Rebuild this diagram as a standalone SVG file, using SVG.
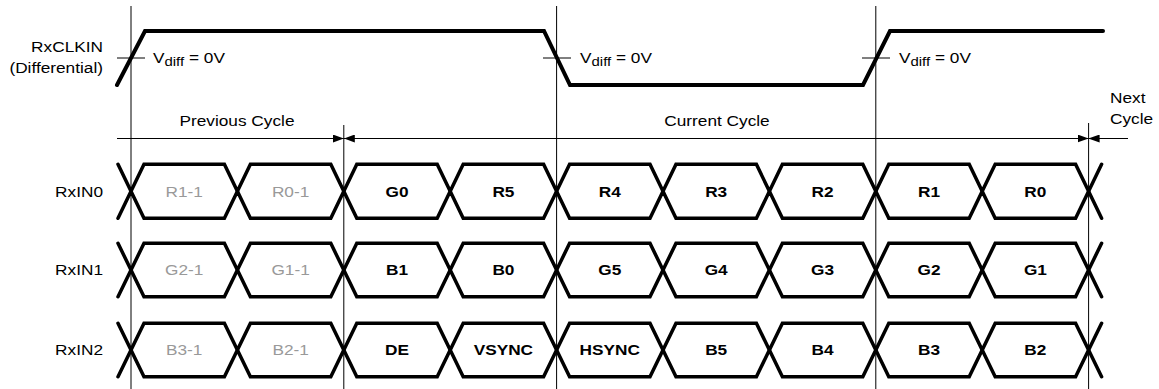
<svg xmlns="http://www.w3.org/2000/svg" width="1159" height="389" viewBox="0 0 1159 389">
<style>
text{font-family:"Liberation Sans",Arial,sans-serif;font-size:15px;fill:#000;transform-box:fill-box;transform:scaleX(1.15)}
.e{text-anchor:end;transform-origin:100% 50%}
.m{text-anchor:middle;transform-origin:50% 50%}
.s{text-anchor:start;transform-origin:0% 50%}
.b{font-weight:bold}
.g{fill:#999}
.sub{font-size:13px}
.sig{fill:none;stroke:#000;stroke-width:3.5;stroke-linecap:round;stroke-linejoin:miter}
.thin{fill:none;stroke:#000;stroke-width:1}
</style>
<defs>
<marker id="ah" viewBox="0 0 11 8" refX="11" refY="4" markerWidth="11" markerHeight="8" markerUnits="userSpaceOnUse" orient="auto-start-reverse">
<path d="M0,0 L11,4 L0,8 z" fill="#000"/>
</marker>
</defs>
<rect width="1159" height="389" fill="#fff"/>

<g id="connectors">
<line class="thin" x1="131" y1="6" x2="131" y2="389"/>
<line class="thin" x1="343.8" y1="125" x2="343.8" y2="389"/>
<line class="thin" x1="556.6" y1="6" x2="556.6" y2="389"/>
<line class="thin" x1="875.8" y1="6" x2="875.8" y2="389"/>
<line class="thin" x1="1088.6" y1="123" x2="1088.6" y2="389"/>
<line class="thin" x1="117" y1="138.5" x2="343.8" y2="138.5" marker-end="url(#ah)"/>
<line class="thin" x1="343.8" y1="138.5" x2="1088.6" y2="138.5" marker-start="url(#ah)" marker-end="url(#ah)"/>
<line class="thin" x1="1128" y1="138.5" x2="1088.6" y2="138.5" marker-end="url(#ah)"/>
<line class="thin" x1="117" y1="58" x2="145" y2="58"/>
<line class="thin" x1="543" y1="58" x2="571" y2="58"/>
<line class="thin" x1="862" y1="58" x2="890" y2="58"/>
</g>

<g id="clock">
<path class="sig" style="stroke-width:4" d="M117,85 L145,31 L544,31 L570,85 L863,85 L890,31 L1103,31"/>
<text class="e" x="103" y="52">RxCLKIN</text>
<text class="e" x="103" y="73">(Differential)</text>
<text class="s" x="153" y="63">V<tspan class="sub" dy="3">diff</tspan><tspan dy="-3"> = 0V</tspan></text>
<text class="s" x="580" y="63">V<tspan class="sub" dy="3">diff</tspan><tspan dy="-3"> = 0V</tspan></text>
<text class="s" x="899" y="63">V<tspan class="sub" dy="3">diff</tspan><tspan dy="-3"> = 0V</tspan></text>
</g>

<g id="cycles">
<text class="m" x="237" y="126">Previous Cycle</text>
<text class="m" x="717" y="126">Current Cycle</text>
<text class="s" x="1110" y="103">Next</text>
<text class="s" x="1110" y="124">Cycle</text>
</g>

<g id="rxin0">
<path class="sig" d="M118,164.3 L131,191.3 L144,164.3 L224.4,164.3 L237.4,191.3 L250.4,164.3 L330.8,164.3 L343.8,191.3 L356.8,164.3 L437.2,164.3 L450.2,191.3 L463.2,164.3 L543.6,164.3 L556.6,191.3 L569.6,164.3 L650,164.3 L663,191.3 L676,164.3 L756.4,164.3 L769.4,191.3 L782.4,164.3 L862.8,164.3 L875.8,191.3 L888.8,164.3 L969.2,164.3 L982.2,191.3 L995.2,164.3 L1075.6,164.3 L1088.6,191.3 L1101.6,164.3"/>
<path class="sig" d="M118,218.3 L131,191.3 L144,218.3 L224.4,218.3 L237.4,191.3 L250.4,218.3 L330.8,218.3 L343.8,191.3 L356.8,218.3 L437.2,218.3 L450.2,191.3 L463.2,218.3 L543.6,218.3 L556.6,191.3 L569.6,218.3 L650,218.3 L663,191.3 L676,218.3 L756.4,218.3 L769.4,191.3 L782.4,218.3 L862.8,218.3 L875.8,191.3 L888.8,218.3 L969.2,218.3 L982.2,191.3 L995.2,218.3 L1075.6,218.3 L1088.6,191.3 L1101.6,218.3"/>
<text class="e" x="103" y="197">RxIN0</text>
<text class="m g" x="184.2" y="197">R1-1</text>
<text class="m g" x="290.6" y="197">R0-1</text>
<text class="m b" x="397" y="197">G0</text>
<text class="m b" x="503.4" y="197">R5</text>
<text class="m b" x="609.8" y="197">R4</text>
<text class="m b" x="716.2" y="197">R3</text>
<text class="m b" x="822.6" y="197">R2</text>
<text class="m b" x="929" y="197">R1</text>
<text class="m b" x="1035.4" y="197">R0</text>
</g>

<g id="rxin1">
<path class="sig" d="M118,243.3 L131,270 L144,243.3 L224.4,243.3 L237.4,270 L250.4,243.3 L330.8,243.3 L343.8,270 L356.8,243.3 L437.2,243.3 L450.2,270 L463.2,243.3 L543.6,243.3 L556.6,270 L569.6,243.3 L650,243.3 L663,270 L676,243.3 L756.4,243.3 L769.4,270 L782.4,243.3 L862.8,243.3 L875.8,270 L888.8,243.3 L969.2,243.3 L982.2,270 L995.2,243.3 L1075.6,243.3 L1088.6,270 L1101.6,243.3"/>
<path class="sig" d="M118,296.7 L131,270 L144,296.7 L224.4,296.7 L237.4,270 L250.4,296.7 L330.8,296.7 L343.8,270 L356.8,296.7 L437.2,296.7 L450.2,270 L463.2,296.7 L543.6,296.7 L556.6,270 L569.6,296.7 L650,296.7 L663,270 L676,296.7 L756.4,296.7 L769.4,270 L782.4,296.7 L862.8,296.7 L875.8,270 L888.8,296.7 L969.2,296.7 L982.2,270 L995.2,296.7 L1075.6,296.7 L1088.6,270 L1101.6,296.7"/>
<text class="e" x="103" y="275.5">RxIN1</text>
<text class="m g" x="184.2" y="275.5">G2-1</text>
<text class="m g" x="290.6" y="275.5">G1-1</text>
<text class="m b" x="397" y="275.5">B1</text>
<text class="m b" x="503.4" y="275.5">B0</text>
<text class="m b" x="609.8" y="275.5">G5</text>
<text class="m b" x="716.2" y="275.5">G4</text>
<text class="m b" x="822.6" y="275.5">G3</text>
<text class="m b" x="929" y="275.5">G2</text>
<text class="m b" x="1035.4" y="275.5">G1</text>
</g>

<g id="rxin2">
<path class="sig" d="M118,323.3 L131,350 L144,323.3 L224.4,323.3 L237.4,350 L250.4,323.3 L330.8,323.3 L343.8,350 L356.8,323.3 L437.2,323.3 L450.2,350 L463.2,323.3 L543.6,323.3 L556.6,350 L569.6,323.3 L650,323.3 L663,350 L676,323.3 L756.4,323.3 L769.4,350 L782.4,323.3 L862.8,323.3 L875.8,350 L888.8,323.3 L969.2,323.3 L982.2,350 L995.2,323.3 L1075.6,323.3 L1088.6,350 L1101.6,323.3"/>
<path class="sig" d="M118,376.7 L131,350 L144,376.7 L224.4,376.7 L237.4,350 L250.4,376.7 L330.8,376.7 L343.8,350 L356.8,376.7 L437.2,376.7 L450.2,350 L463.2,376.7 L543.6,376.7 L556.6,350 L569.6,376.7 L650,376.7 L663,350 L676,376.7 L756.4,376.7 L769.4,350 L782.4,376.7 L862.8,376.7 L875.8,350 L888.8,376.7 L969.2,376.7 L982.2,350 L995.2,376.7 L1075.6,376.7 L1088.6,350 L1101.6,376.7"/>
<text class="e" x="103" y="355.5">RxIN2</text>
<text class="m g" x="184.2" y="355.5">B3-1</text>
<text class="m g" x="290.6" y="355.5">B2-1</text>
<text class="m b" x="397" y="355.5">DE</text>
<text class="m b" x="503.4" y="355.5">VSYNC</text>
<text class="m b" x="609.8" y="355.5">HSYNC</text>
<text class="m b" x="716.2" y="355.5">B5</text>
<text class="m b" x="822.6" y="355.5">B4</text>
<text class="m b" x="929" y="355.5">B3</text>
<text class="m b" x="1035.4" y="355.5">B2</text>
</g>
</svg>
